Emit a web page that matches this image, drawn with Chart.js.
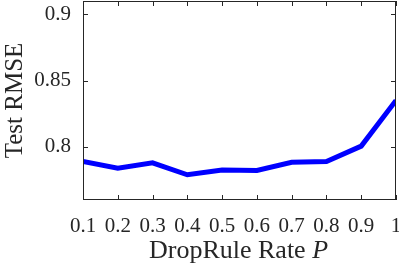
<!DOCTYPE html>
<html lang="en">
<head>
    <meta charset="UTF-8">
    <title>DropRule Rate</title>
    <script src="https://cdn.jsdelivr.net/npm/chart.js"></script>
    <style>
        html, body { margin: 0; padding: 0; background: #fff; }
        #wrap { width: 399px; height: 264px; }
    </style>
</head>
<body>
    <div id="wrap"><canvas id="rmseChart"></canvas></div>

    <script>
        // Data
        const dropRates = [0.1, 0.2, 0.3, 0.4, 0.5, 0.6, 0.7, 0.8, 0.9, 1.0];
        const testRmse = [0.789, 0.784, 0.788, 0.779, 0.7826, 0.7823, 0.7884, 0.789, 0.8006, 0.835];
        const xTicks = [0.1, 0.2, 0.3, 0.4, 0.5, 0.6, 0.7, 0.8, 0.9, 1];
        const yTicks = [0.8, 0.85, 0.9];

        const ink = '#262626';
        const serif = 'Liberation Serif, Times New Roman, serif';
        Chart.defaults.font.family = serif;
        Chart.defaults.color = ink;

        // MATLAB-style box, inward ticks and the x label with italic P
        const axesBox = {
            id: 'axesBox',
            afterDraw(chart) {
                const { ctx, chartArea: a, scales } = chart;
                ctx.save();
                ctx.strokeStyle = ink;
                ctx.lineWidth = 1;
                ctx.strokeRect(a.left + 0.5, a.top + 0.5, a.right - a.left - 1, a.bottom - a.top - 1);
                ctx.beginPath();
                xTicks.forEach(v => {
                    const x = Math.round(scales.x.getPixelForValue(v)) + 0.5;
                    ctx.moveTo(x, a.bottom); ctx.lineTo(x, a.bottom - 5);
                    ctx.moveTo(x, a.top); ctx.lineTo(x, a.top + 5);
                });
                yTicks.forEach(v => {
                    const y = Math.round(scales.y.getPixelForValue(v)) + 0.5;
                    ctx.moveTo(a.left, y); ctx.lineTo(a.left + 5, y);
                    ctx.moveTo(a.right, y); ctx.lineTo(a.right - 5, y);
                });
                ctx.stroke();

                // x axis title
                const t1 = 'DropRule Rate ';
                const t2 = 'P';
                ctx.fillStyle = ink;
                ctx.textBaseline = 'alphabetic';
                ctx.textAlign = 'left';
                ctx.font = '26px ' + serif;
                const w1 = ctx.measureText(t1).width;
                ctx.font = 'italic 26px ' + serif;
                const w2 = ctx.measureText(t2).width;
                const cx = (a.left + a.right) / 2 - 1;
                const x0 = cx - (w1 + w2) / 2;
                ctx.font = '26px ' + serif;
                ctx.fillText(t1, x0, 258);
                ctx.font = 'italic 26px ' + serif;
                ctx.fillText(t2, x0 + w1, 258);
                ctx.restore();
            }
        };

        const ctx = document.getElementById('rmseChart').getContext('2d');
        new Chart(ctx, {
            type: 'line',
            data: {
                datasets: [{
                    data: dropRates.map((x, i) => ({ x: x, y: testRmse[i] })),
                    borderColor: '#0000ff',
                    borderWidth: 5,
                    pointRadius: 0,
                    tension: 0,
                    fill: false
                }]
            },
            options: {
                responsive: true,
                maintainAspectRatio: false,
                animation: false,
                layout: { padding: { top: 1, right: 3, left: 0, bottom: 0 } },
                plugins: {
                    legend: { display: false },
                    tooltip: { enabled: false }
                },
                scales: {
                    x: {
                        type: 'linear',
                        min: 0.1,
                        max: 1,
                        grid: { display: false, drawTicks: false },
                        border: { display: false },
                        afterBuildTicks: s => { s.ticks = xTicks.map(v => ({ value: v })); },
                        afterFit: s => { s.height = 64; s.paddingLeft = 0; s.paddingRight = 0; },
                        ticks: {
                            color: ink,
                            padding: 14,
                            maxRotation: 0,
                            autoSkip: false,
                            font: { family: serif, size: 21 },
                            callback: v => String(v)
                        }
                    },
                    y: {
                        min: 0.76,
                        max: 0.91,
                        grid: { display: false, drawTicks: false },
                        border: { display: false },
                        afterBuildTicks: s => { s.ticks = yTicks.map(v => ({ value: v })); },
                        afterFit: s => { s.width = 83; s.paddingTop = 0; s.paddingBottom = 0; },
                        ticks: {
                            color: ink,
                            padding: 12,
                            font: { family: serif, size: 21 },
                            callback: v => String(v)
                        },
                        title: {
                            display: true,
                            text: 'Test RMSE',
                            color: ink,
                            padding: { top: 0, bottom: 0 },
                            font: { family: serif, size: 25 }
                        }
                    }
                }
            },
            plugins: [axesBox]
        });
    </script>
</body>
</html>
